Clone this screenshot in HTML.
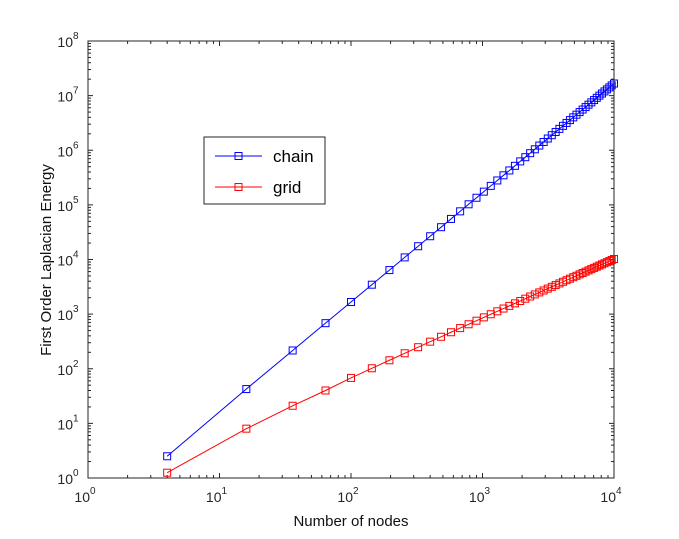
<!DOCTYPE html>
<html><head><meta charset="utf-8"><style>
html,body{margin:0;padding:0;background:#fff;}
svg{display:block;font-family:"Liberation Sans",sans-serif;}
</style></head><body>
<svg id="chart" width="679" height="539" viewBox="0 0 679 539" xmlns="http://www.w3.org/2000/svg">
<rect x="0" y="0" width="679" height="539" fill="#fff"/>
<g id="axes-layer"></g>
<g id="series-layer"></g>
<text x="351" y="526" font-size="15" text-anchor="middle" fill="#111">Number of nodes</text>
<text transform="translate(51,260) rotate(-90)" font-size="15" text-anchor="middle" fill="#111">First Order Laplacian Energy</text>
<g>
<rect x="204" y="137" width="121" height="67" fill="#fff" stroke="#262626" stroke-width="1"/>
<g>
<line x1="215" y1="156" x2="262" y2="156" stroke="#0000ff" stroke-width="1"/>
<rect x="235" y="152.5" width="7" height="7" fill="none" stroke="#0000ff"/>
<text x="273" y="162" font-size="17" fill="#000">chain</text>
</g>
<g>
<line x1="215" y1="187" x2="262" y2="187" stroke="#ff0000" stroke-width="1"/>
<rect x="235" y="183.5" width="7" height="7" fill="none" stroke="#ff0000"/>
<text x="273" y="193" font-size="17" fill="#000">grid</text>
</g>
</g>
</svg>
<script>
const nodes = [4,16,36,64,100,144,196,256,324,400,484,576,676,784,900,1024,1156,1296,1444,1600,1764,1936,2116,2304,2500,2704,2916,3136,3364,3600,3844,4096,4356,4624,4900,5184,5476,5776,6084,6400,6724,7056,7396,7744,8100,8464,8836,9216,9604,10000];
const chainValues = [2.5,42.5,216,683,1667,3456,6403,10923,17496,26667,39043,55296,76163,102443,135000,174763,222723,279936,347523,426667,518616,624683,746243,884736,1041667,1218603,1417176,1639083,1886083,2160000,2462723,2796203,3162456,3563563,4001667,4478976,4997763,5560363,6169176,6826667,7535363,8297856,9116803,9994923,10935000,11939883,13012483,14155776,15372803,16666667];
const gridValues = [1.25,8,21,40,68,102,143,192,248,313,385,466,555,652,758,872,995,1126,1266,1416,1574,1740,1917,2101,2295,2498,2710,2932,3162,3402,3651,3911,4177,4456,4743,5039,5345,5660,5987,6323,6663,7021,7381,7759,8141,8532,8933,9345,9777,10210];
const xTickExps = [0,1,2,3,4];
const yTickExps = [0,1,2,3,4,5,6,7,8];

const NS = "http://www.w3.org/2000/svg";
const L = 88, R = 614, T = 41, B = 478;
const xMin = 0, xMax = 4, yMin = 0, yMax = 8;
function xs(v){ return L + (Math.log10(v) - xMin) / (xMax - xMin) * (R - L); }
function ys(v){ return B - (Math.log10(v) - yMin) / (yMax - yMin) * (B - T); }
function mk(tag, attrs, parent){
  const e = document.createElementNS(NS, tag);
  for (const k in attrs) e.setAttribute(k, attrs[k]);
  parent.appendChild(e);
  return e;
}
const axes = document.getElementById('axes-layer');
const series = document.getElementById('series-layer');
const axc = "#262626";

const box = mk('rect', {x:L, y:T, width:R-L, height:B-T, fill:'none', stroke:axc, 'stroke-width':1}, axes);



xTickExps.forEach(function(e){
  const px = xs(Math.pow(10, e));
  mk('line', {x1:px, y1:B, x2:px, y2:B-5, stroke:axc}, axes);
  mk('line', {x1:px, y1:T, x2:px, y2:T+5, stroke:axc}, axes);
  if (e < xMax) {
    for (let m = 2; m <= 9; m++) {
      const mx = xs(m * Math.pow(10, e));
      mk('line', {x1:mx, y1:B, x2:mx, y2:B-3, stroke:axc}, axes);
      mk('line', {x1:mx, y1:T, x2:mx, y2:T+3, stroke:axc}, axes);
    }
  }
  const t = mk('text', {x:px-3, y:B+24, 'font-size':14, 'text-anchor':'middle', fill:'#262626'}, axes);
  
  
  t.textContent = '10';
  const s = mk('tspan', {dy:-8, 'font-size':10}, t);
  s.textContent = String(e);
});
yTickExps.forEach(function(e){
  const py = ys(Math.pow(10, e));
  mk('line', {x1:L, y1:py, x2:L+5, y2:py, stroke:axc}, axes);
  mk('line', {x1:R, y1:py, x2:R-5, y2:py, stroke:axc}, axes);
  if (e < yMax) {
    for (let m = 2; m <= 9; m++) {
      const my = ys(m * Math.pow(10, e));
      mk('line', {x1:L, y1:my, x2:L+3, y2:my, stroke:axc}, axes);
      mk('line', {x1:R, y1:my, x2:R-3, y2:my, stroke:axc}, axes);
    }
  }
  const t = mk('text', {x:L-20, y:py+6, 'font-size':14, 'text-anchor':'middle', fill:'#262626'}, axes);
  
  
  t.textContent = '10';
  const s = mk('tspan', {dy:-8, 'font-size':10}, t);
  s.textContent = String(e);
});

function drawSeries(vals, color, name){
  const g = mk('g', {}, series);
  
  
  const pts = nodes.map(function(n, i){ return xs(n).toFixed(2) + ',' + ys(vals[i]).toFixed(2); }).join(' ');
  const pl = mk('polyline', {points:pts, fill:'none', stroke:color, 'stroke-width':1}, g);
  
  
  nodes.forEach(function(n, i){
    const r = mk('rect', {x:xs(n)-3.5, y:ys(vals[i])-3.5, width:7, height:7, fill:'none', stroke:color, 'stroke-width':1}, g);
    
    
  });
}
drawSeries(chainValues, '#0000ff', 'chain');
drawSeries(gridValues, '#ff0000', 'grid');
</script>
</body></html>
